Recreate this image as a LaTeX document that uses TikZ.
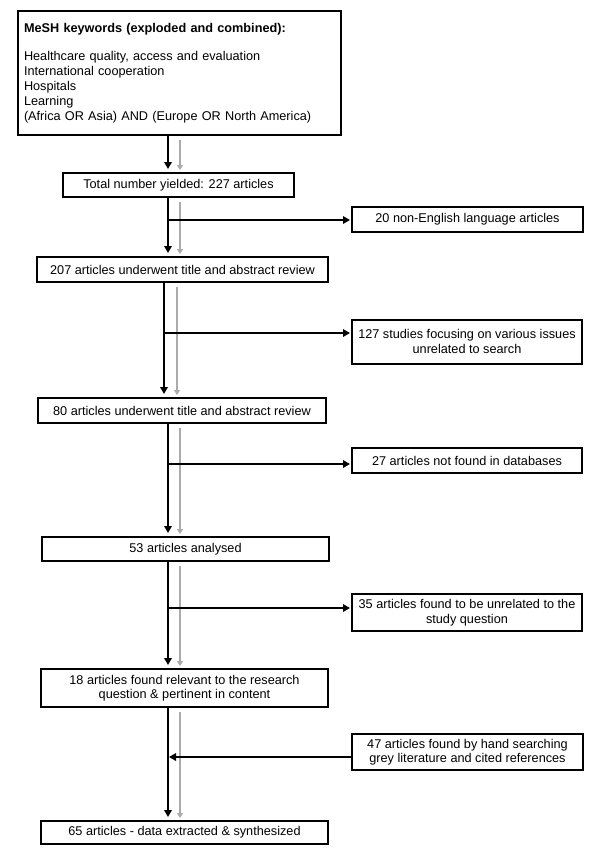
\documentclass[tikz,border=0pt]{standalone}
\usepackage{fontspec}
\setmainfont{Liberation Sans}
\usetikzlibrary{arrows.meta}
\definecolor{grayarrow}{HTML}{ABABAB}
\begin{document}
\begin{tikzpicture}[x=1pt,y=-1pt,
  txt/.style={font=\fontsize{12.7}{14.5}\selectfont},
  box/.style={draw, line width=2pt, inner sep=0pt, align=center, txt},
  blk/.style={line width=2pt, -{Triangle[length=7pt,width=7.5pt]}},
  gry/.style={line width=2pt, draw=grayarrow, -{Triangle[length=5pt,width=6pt]}},
]
\useasboundingbox (0,0) rectangle (600,852);
\fill[white] (0,0) rectangle (600,852);

\node[box, anchor=north west, minimum width=323pt, minimum height=124pt, text width=311pt, align=left, inner xsep=6pt] (box1) at (17,10)
  {{\bfseries MeSH keywords (exploded and combined):}\\[13pt]
   Healthcare quality, access and evaluation\\[0.5pt]
   International cooperation\\[0.5pt]
   Hospitals\\[0.5pt]
   Learning\\[0.5pt]
   (Africa OR Asia) AND (Europe OR North America)};

\node[box, minimum width=231pt, minimum height=24pt] (box2) at (178.5,185) {Total number yielded: 227 articles};
\node[box, minimum width=231pt, minimum height=25pt] (n20) at (467.5,219.5) {20 non-English language articles};
\node[box, minimum width=291pt, minimum height=25pt] (box3) at (182.5,269.5) {207 articles underwent title and abstract review};
\node[box, minimum width=230pt, minimum height=44pt] (n127) at (467,341.5) {127 studies focusing on various issues\\unrelated to search};
\node[box, minimum width=288pt, minimum height=25pt] (box4) at (182,410.5) {80 articles underwent title and abstract review};
\node[box, minimum width=230pt, minimum height=25pt] (n27) at (467,460.5) {27 articles not found in databases};
\node[box, minimum width=287pt, minimum height=24pt] (box5) at (185.5,549) {53 articles analysed};
\node[box, minimum width=230pt, minimum height=37pt] (n35) at (467,612.5) {35 articles found to be unrelated to the\\study question};
\node[box, minimum width=287pt, minimum height=38pt] (box6) at (184.5,688) {18 articles found relevant to the research\\question \& pertinent in content};
\node[box, minimum width=231pt, minimum height=36pt] (n47) at (467.5,752) {47 articles found by hand searching\\grey literature and cited references};
\node[box, minimum width=287pt, minimum height=23pt] (box7) at (184.5,832.5) {65 articles - data extracted \& synthesized};

\coordinate (bx) at (168,0);
\coordinate (gx) at (180,0);
\coordinate (bxb) at (164,0);
\coordinate (gxb) at (177,0);

\coordinate (a20) at ([yshift=-0.5pt]n20.west);
\coordinate (a127) at ([yshift=8.5pt]n127.west);
\coordinate (a27) at ([yshift=-3.5pt]n27.west);
\coordinate (a35) at ([yshift=4.5pt]n35.west);
\coordinate (a47) at ([yshift=-5pt]n47.west);

% main black flow
\draw[blk, shorten >=3pt] (box1.south -| bx) -- (box2.north -| bx);
\draw[blk, shorten >=3pt] (box2.south -| bx) -- (box3.north -| bx);
\draw[blk, shorten >=3pt] (box3.south -| bxb) -- (box4.north -| bxb);
\draw[blk, shorten >=3pt] (box4.south -| bx) -- (box5.north -| bx);
\draw[blk, shorten >=3pt] (box5.south -| bx) -- (box6.north -| bx);
\draw[blk, shorten >=3pt] (box6.south -| bx) -- (box7.north -| bx);

% grey flow
\draw[gry, shorten <=4pt, shorten >=2pt] (box1.south -| gx) -- (box2.north -| gx);
\draw[gry, shorten <=4pt, shorten >=2pt] (box2.south -| gx) -- (box3.north -| gx);
\draw[gry, shorten <=4pt, shorten >=2pt] (box3.south -| gxb) -- (box4.north -| gxb);
\draw[gry, shorten <=4pt, shorten >=2pt] (box4.south -| gx) -- (box5.north -| gx);
\draw[gry, shorten <=4pt, shorten >=2pt] (box5.south -| gx) -- (box6.north -| gx);
\draw[gry, shorten <=4pt, shorten >=2pt] (box6.south -| gx) -- (box7.north -| gx);

% side branches
\draw[blk, shorten >=1pt] (a20 -| bx) -- (a20);
\draw[blk, shorten >=1pt] (a127 -| bxb) -- (a127);
\draw[blk, shorten >=1pt] (a27 -| bx) -- (a27);
\draw[blk, shorten >=1pt] (a35 -| bx) -- (a35);
\draw[blk, shorten >=1pt] (a47) -- (a47 -| bx);
\end{tikzpicture}
\end{document}
